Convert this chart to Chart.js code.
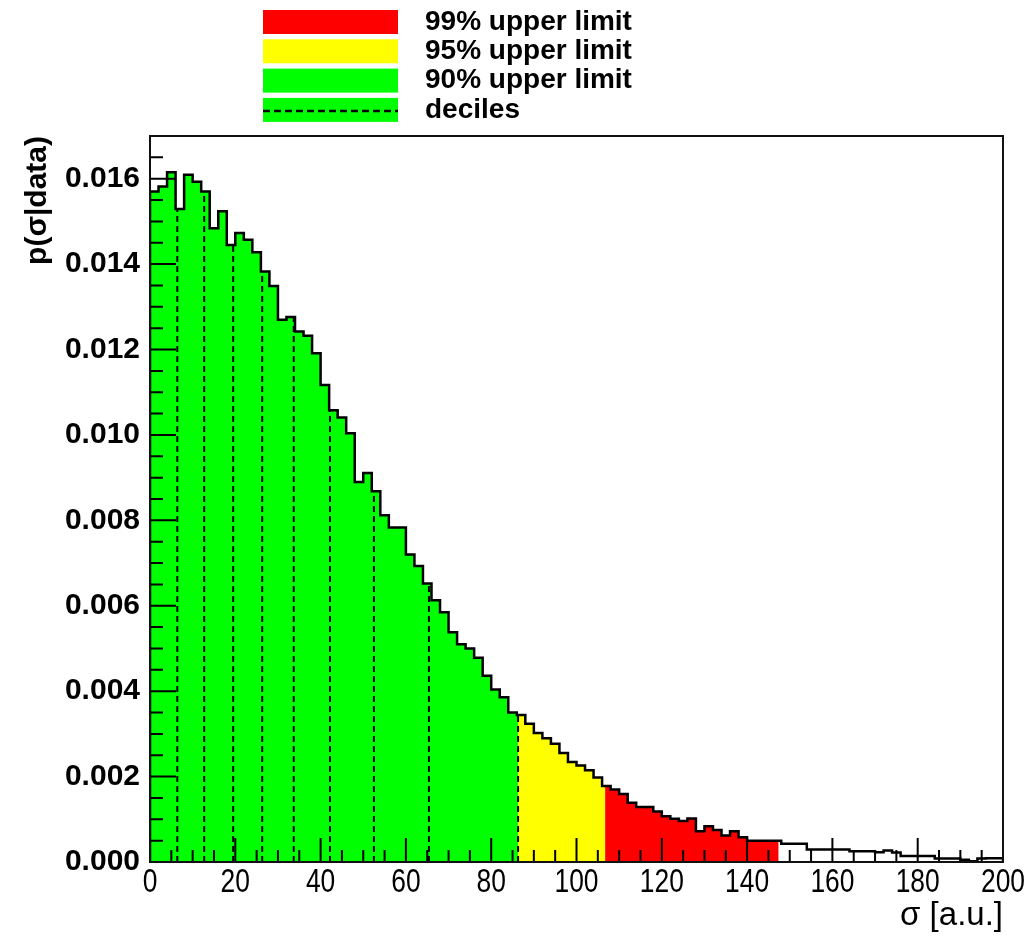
<!DOCTYPE html>
<html>
<head>
<meta charset="utf-8">
<title>p(σ|data)</title>
<script src="https://cdn.jsdelivr.net/npm/chart.js@4.4.1/dist/chart.umd.min.js"></script>
<style>
  html, body { margin: 0; padding: 0; background: #fff; }
  #wrap { width: 1032px; height: 936px; position: relative; }
</style>
</head>
<body>
<div id="wrap"><canvas id="posterior"></canvas></div>
<script>
// binning of sigma
const sigmaMin = 0;
const sigmaMax = 200;
const binWidth = 2;

// posterior density, one value per bin (100 bins)
const density = [
  0.01570, 0.01582, 0.01615, 0.01529, 0.01609, 0.01593, 0.01570, 0.01484, 0.01524, 0.01445,
  0.01473, 0.01457, 0.01428, 0.01383, 0.01349, 0.01270, 0.01276, 0.01242, 0.01232, 0.01191,
  0.01117, 0.01058, 0.01041, 0.01004, 0.00890, 0.00911, 0.00868, 0.00812, 0.00783, 0.00783,
  0.00720, 0.00693, 0.00652, 0.00613, 0.00585, 0.00538, 0.00510, 0.00500, 0.00478, 0.00436,
  0.00404, 0.00386, 0.00350, 0.00344, 0.00324, 0.00302, 0.00290, 0.00277, 0.00255, 0.00234,
  0.00226, 0.00215, 0.00198, 0.00178, 0.00170, 0.00159, 0.00139, 0.00129, 0.00129, 0.00118,
  0.00107, 0.00101, 0.00096, 0.00102, 0.00072, 0.00084, 0.00075, 0.00062, 0.00072, 0.00058,
  0.00050, 0.00050, 0.00050, 0.00050, 0.00043, 0.00043, 0.00043, 0.00029, 0.00029, 0.00029,
  0.00029, 0.00029, 0.00025, 0.00025, 0.00025, 0.00023, 0.00027, 0.00022, 0.00014, 0.00014,
  0.00014, 0.00014, 0.00008, 0.00008, 0.00008, 0.00005, 0.00002, 0.00008, 0.00009, 0.00009
];

// decile positions and upper limits
const deciles = [6.4, 12.7, 19.5, 26.3, 33.7, 42.2, 52.5, 65.4, 86.3];
const limit90 = 86.3;
const limit95 = 106.7;
const limit99 = 147.4;

// axis range / ticks
const yMax = 0.017;
const xStep = 20;
const yStep = 0.002;

const legendLabels = ['99% upper limit', '95% upper limit', '90% upper limit', 'deciles'];
const xTitle = 'σ [a.u.]';
const yTitle = 'p(σ|data)';

const RED = '#ff0000';
const YELLOW = '#ffff00';
const GREEN = '#00ff00';
const SANS = "'Liberation Sans', Arial, Helvetica, sans-serif";

function binOf(s) {
    return Math.min(density.length - 1, Math.max(0, Math.floor((s - sigmaMin) / binWidth)));
}

// step outline of the full histogram
function outlinePoints() {
    const pts = [{ x: sigmaMin, y: 0 }];
    density.forEach((v, i) => pts.push({ x: sigmaMin + i * binWidth, y: v }));
    pts.push({ x: sigmaMax, y: 0 });
    return pts;
}

// filled step area between two sigma values
function bandPoints(from, to) {
    const pts = [{ x: from, y: 0 }, { x: from, y: density[binOf(from)] }];
    for (let i = binOf(from) + 1; sigmaMin + i * binWidth < to; i++) {
        pts.push({ x: sigmaMin + i * binWidth, y: density[i] });
    }
    pts.push({ x: to, y: density[binOf(to - 1e-9)] });
    pts.push({ x: to, y: 0 });
    return pts;
}

function bandDataset(from, to, color) {
    return {
        data: bandPoints(from, to),
        stepped: true,
        fill: 'origin',
        backgroundColor: color,
        borderWidth: 0,
        borderColor: 'rgba(0,0,0,0)',
        pointRadius: 0,
        order: 3
    };
}

function decileDatasets() {
    return deciles.map(d => ({
        data: [{ x: d, y: 0 }, { x: d, y: density[binOf(d)] }],
        borderColor: '#000',
        borderWidth: 2,
        borderDash: [6, 4],
        pointRadius: 0,
        fill: false,
        order: 2
    }));
}

// frame around the plot plus inward tick marks
const frameTicks = {
    id: 'frameTicks',
    afterDatasetsDraw(chart) {
        const { ctx, chartArea: a, scales: { x, y } } = chart;
        ctx.save();
        ctx.strokeStyle = '#000';
        ctx.lineWidth = 2;
        ctx.beginPath();
        for (let v = sigmaMin; v <= sigmaMax; v += xStep / 4) {
            const px = x.getPixelForValue(v);
            const len = (v % xStep === 0) ? 24 : 12;
            ctx.moveTo(px, a.bottom);
            ctx.lineTo(px, a.bottom - len);
        }
        for (let k = 0; k * yStep / 4 <= yMax + 1e-9; k++) {
            const py = y.getPixelForValue(k * yStep / 4);
            const len = (k % 4 === 0) ? 26 : 13;
            ctx.moveTo(a.left, py);
            ctx.lineTo(a.left + len, py);
        }
        ctx.stroke();
        ctx.strokeStyle = '#111';
        ctx.strokeRect(a.left, a.top, a.right - a.left, a.bottom - a.top);
        ctx.restore();
    }
};

// condensed x tick labels under the frame
const xTickLabels = {
    id: 'xTickLabels',
    afterDraw(chart) {
        const { ctx, chartArea: a, scales: { x } } = chart;
        ctx.save();
        ctx.fillStyle = '#000';
        ctx.font = '33px ' + SANS;
        ctx.textAlign = 'center';
        ctx.textBaseline = 'alphabetic';
        x.ticks.forEach(t => {
            ctx.save();
            ctx.translate(x.getPixelForValue(t.value), a.bottom + 30);
            ctx.scale(0.8, 1);
            ctx.fillText(String(t.value), 0, 0);
            ctx.restore();
        });
        ctx.restore();
    }
};

// legend block above the plot
const limitLegend = {
    id: 'limitLegend',
    afterDraw(chart) {
        const ctx = chart.ctx;
        const colors = [RED, YELLOW, GREEN, GREEN];
        ctx.save();
        legendLabels.forEach((label, i) => {
            const top = 10 + i * 29.3;
            ctx.fillStyle = colors[i];
            ctx.fillRect(263, top, 135, 24);
            if (label === 'deciles') {
                ctx.strokeStyle = '#000';
                ctx.lineWidth = 2.5;
                ctx.setLineDash([7, 4]);
                ctx.beginPath();
                ctx.moveTo(263, top + 13);
                ctx.lineTo(398, top + 13);
                ctx.stroke();
                ctx.setLineDash([]);
            }
            ctx.fillStyle = '#000';
            ctx.font = 'bold 28px ' + SANS;
            ctx.textBaseline = 'middle';
            ctx.textAlign = 'left';
            ctx.fillText(label, 425, top + 12);
        });
        ctx.restore();
    }
};

let charts = {};

document.addEventListener('DOMContentLoaded', function() {
    const ctx = document.getElementById('posterior').getContext('2d');

    charts.posterior = new Chart(ctx, {
        type: 'line',
        data: {
            datasets: [
                {
                    data: outlinePoints(),
                    stepped: true,
                    fill: false,
                    borderColor: '#000',
                    borderWidth: 2.5,
                    pointRadius: 0,
                    order: 1
                },
                ...decileDatasets(),
                bandDataset(sigmaMin, limit90, GREEN),
                bandDataset(limit90, limit95, YELLOW),
                bandDataset(limit95, limit99, RED)
            ]
        },
        options: {
            responsive: true,
            maintainAspectRatio: false,
            animation: false,
            events: [],
            layout: { padding: { left: 0, top: 136, right: 29, bottom: 0 } },
            plugins: {
                legend: { display: false },
                tooltip: { enabled: false }
            },
            scales: {
                x: {
                    type: 'linear',
                    min: sigmaMin,
                    max: sigmaMax,
                    grid: { display: false, drawTicks: false },
                    border: { display: false },
                    ticks: {
                        stepSize: xStep,
                        autoSkip: false,
                        maxRotation: 0,
                        display: false
                    },
                    title: {
                        display: true,
                        text: xTitle,
                        align: 'end',
                        color: '#000',
                        padding: { top: 0, bottom: 0 },
                        font: { family: SANS, size: 33 }
                    },
                    afterFit: s => { s.height = 74; }
                },
                y: {
                    min: 0,
                    max: yMax,
                    grid: { display: false, drawTicks: false },
                    border: { display: false },
                    ticks: {
                        stepSize: yStep,
                        includeBounds: false,
                        padding: 10,
                        color: '#000',
                        font: { family: SANS, size: 30, weight: 'bold' },
                        callback: v => v.toFixed(3)
                    },
                    title: {
                        display: true,
                        text: yTitle,
                        align: 'end',
                        color: '#000',
                        padding: { top: 20, bottom: 0 },
                        font: { family: SANS, size: 30, weight: 'bold' }
                    },
                    afterFit: s => { s.width = 150; }
                }
            }
        },
        plugins: [frameTicks, xTickLabels, limitLegend]
    });
});
</script>
</body>
</html>
